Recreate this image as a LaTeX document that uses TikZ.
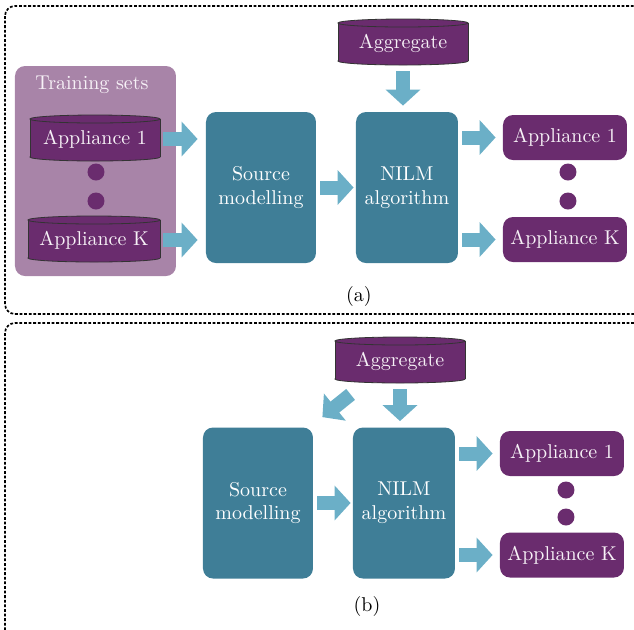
\documentclass[tikz,border=0pt]{standalone}
\usetikzlibrary{arrows.meta,calc}

\definecolor{plum}{HTML}{6A2C6E}
\definecolor{lilac}{HTML}{A884A8}
\definecolor{tealbox}{HTML}{3F7E97}
\definecolor{sky}{HTML}{6BAFC7}
\definecolor{paletxt}{HTML}{F7F2F7}

\tikzset{
  panel/.style={draw=black, line width=0.85pt, dash pattern=on 1.4pt off 0.9pt, rounded corners=5pt},
  procbox/.style={fill=tealbox, rounded corners=5pt, text=white, align=center, inner sep=0pt,
                  minimum height=75.5pt},
  outbox/.style={fill=plum, rounded corners=5pt, text=paletxt, inner sep=0pt,
                 minimum width=62pt, minimum height=22.5pt},
  dbtext/.style={text=paletxt, inner sep=0pt, minimum height=23pt},
  barrow/.style={draw=sky, line width=7pt, -{Triangle[length=8pt,width=17pt]}},
  dotnode/.style={circle, fill=plum, minimum size=8.5pt, inner sep=0pt},
  cylline/.style={draw=black!80, line width=0.4pt},
}

% database cylinder: name, centre x, centre y, half width, label
\newcommand\dbcyl[5]{%
  \filldraw[fill=plum, cylline] (#2,{#3+19}) ellipse [x radius=#4, y radius=4];
  \fill[plum] ({#2-#4},{#3-19}) rectangle ({#2+#4},{#3+19});
  \draw[cylline] ({#2-#4},{#3-19}) -- ({#2-#4},{#3+19})
                 ({#2+#4},{#3-19}) -- ({#2+#4},{#3+19});
  \filldraw[fill=plum, cylline] (#2,{#3-19}) ellipse [x radius=#4, y radius=4];
  \node[dbtext, minimum width=#4pt] (#1) at (#2,{#3+1}) {#5};
}

\begin{document}
\begin{tikzpicture}[x=0.5pt, y=-0.5pt]
  \clip (0,0) rectangle (634,629);

  % ---------- panel (a) ----------
  \draw[panel] (5,6) rectangle (660,314);

  \node[fill=lilac, rounded corners=5pt, minimum width=80.5pt, minimum height=105pt, inner sep=0pt]
    (train) at (95.5,171) {};
  \node[text=paletxt, inner sep=0pt] (traintitle) at (92,85) {Training sets};

  \dbcyl{tapp1}{95}{138}{65}{Appliance 1}
  \dbcyl{tappK}{94}{239}{66}{Appliance K}
  \node[dotnode] (tdot1) at (96,172) {};
  \node[dotnode] (tdot2) at (96,201) {};

  \node[procbox, minimum width=55pt] (srcA) at (261,187.5) {Source\\modelling};
  \node[procbox, minimum width=51pt] (nilmA) at (407,187.5) {NILM\\algorithm};

  \dbcyl{aggA}{403}{42}{65}{Aggregate}

  \node[outbox] (outA1) at (565,137.5) {Appliance 1};
  \node[outbox] (outAK) at (565,239.5) {Appliance K};
  \node[dotnode] (odotA1) at (568,172) {};
  \node[dotnode] (odotA2) at (568,201) {};

  \draw[barrow, shorten <=1.5pt, shorten >=4pt] (tapp1.east) -- (tapp1.east -| srcA.west);
  \draw[barrow, shorten <=1.5pt, shorten >=4pt] (tappK.east) -- (tappK.east -| srcA.west);
  \draw[barrow, shorten <=2pt, shorten >=1pt] (srcA.east) -- (nilmA.west);
  \draw[barrow, shorten <=2.5pt, shorten >=3pt] (aggA.south) -- (aggA.south |- nilmA.north);
  \draw[barrow, shorten <=2pt, shorten >=3.5pt] (nilmA.east |- outA1.west) -- (outA1.west);
  \draw[barrow, shorten <=2pt, shorten >=3.5pt] (nilmA.east |- outAK.west) -- (outAK.west);

  \node[inner sep=0pt] (labA) at (359,296) {(a)};

  % ---------- panel (b) ----------
  \draw[panel] (5,323) rectangle (660,645);

  \node[procbox, minimum width=55pt] (srcB) at (258,503) {Source\\modelling};
  \node[procbox, minimum width=51pt] (nilmB) at (404,503) {NILM\\algorithm};

  \dbcyl{aggB}{400}{360}{65}{Aggregate}

  \node[outbox] (outB1) at (562,453.5) {Appliance 1};
  \node[outbox] (outBK) at (562,555) {Appliance K};
  \node[dotnode] (odotB1) at (566,490) {};
  \node[dotnode] (odotB2) at (566,517) {};

  \draw[barrow] ($(aggB.south west)+(16,10)$) -- ($(srcB.north east)+(9,-10)$);
  \draw[barrow, shorten <=2.5pt, shorten >=3pt] (aggB.south) -- (aggB.south |- nilmB.north);
  \draw[barrow, shorten <=2pt, shorten >=1pt] (srcB.east) -- (nilmB.west);
  \draw[barrow, shorten <=2pt, shorten >=3.5pt] (nilmB.east |- outB1.west) -- (outB1.west);
  \draw[barrow, shorten <=2pt, shorten >=3.5pt] (nilmB.east |- outBK.west) -- (outBK.west);

  \node[inner sep=0pt] (labB) at (367,606) {(b)};
\end{tikzpicture}
\end{document}
